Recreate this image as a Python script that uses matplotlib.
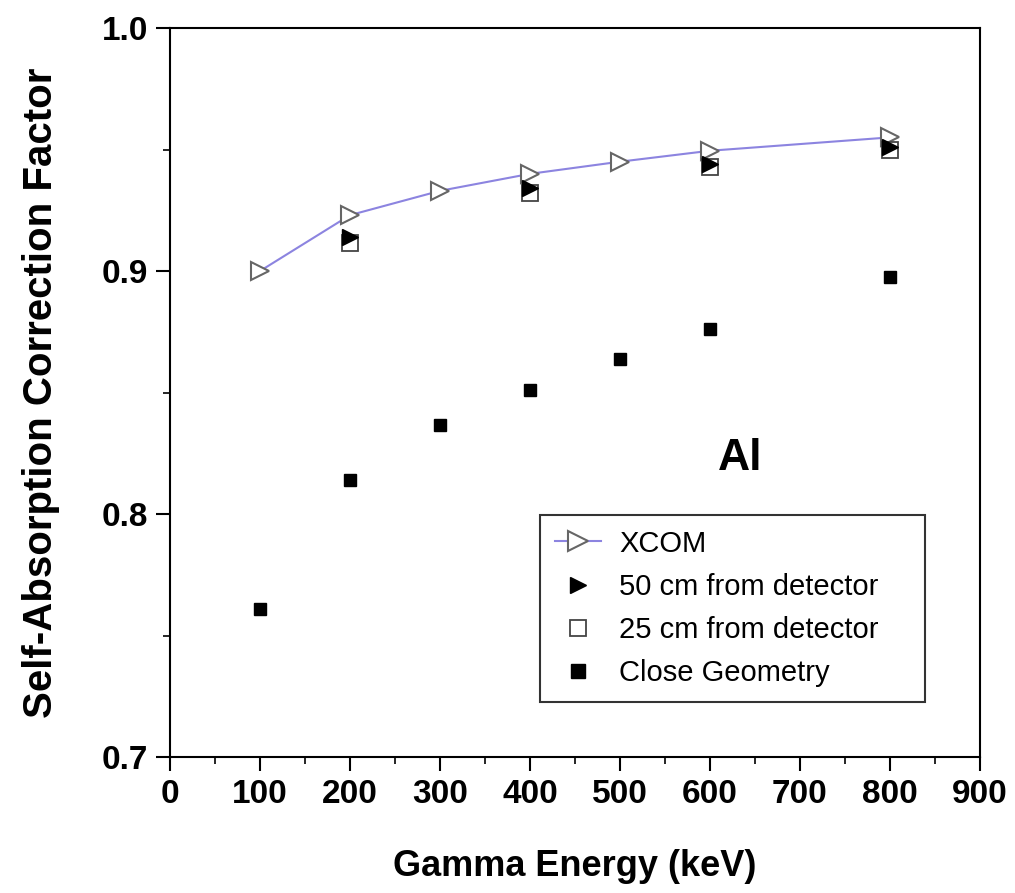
import matplotlib.pyplot as plt
from matplotlib.ticker import MultipleLocator

plt.rcParams["font.family"] = ["Liberation Sans", "DejaVu Sans"]

# Data
energy_xcom = [100, 200, 300, 400, 500, 600, 800]
xcom = [0.900, 0.923, 0.933, 0.940, 0.945, 0.9495, 0.955]

energy_meas = [200, 400, 600, 800]
cm50 = [0.914, 0.934, 0.944, 0.951]
cm25 = [0.9115, 0.932, 0.943, 0.950]

energy_close = [100, 200, 300, 400, 500, 600, 800]
close_geom = [0.761, 0.814, 0.8365, 0.851, 0.864, 0.876, 0.8975]

fig = plt.figure(figsize=(10.15, 8.93), dpi=100)
ax = fig.add_axes([0.1675, 0.1523, 0.798, 0.8163])

ax.plot(energy_xcom, xcom, color="#8c84e0", lw=1.5, marker=">", ms=13,
        mfc="white", mec="#666666", mew=1.5, label="XCOM", zorder=2)
ax.plot(energy_meas, cm25, ls="none", marker="s", ms=11, mfc="white",
        mec="#444444", mew=1.3, label="25 cm from detector", zorder=3)
ax.plot(energy_meas, cm50, ls="none", marker=">", ms=11, color="black",
        label="50 cm from detector", zorder=4)
ax.plot(energy_close, close_geom, ls="none", marker="s", ms=9,
        color="black", label="Close Geometry", zorder=3)

ax.set_xlim(0, 900)
ax.set_ylim(0.7, 1.0)
ax.xaxis.set_major_locator(MultipleLocator(100))
ax.xaxis.set_minor_locator(MultipleLocator(50))
ax.yaxis.set_major_locator(MultipleLocator(0.1))
ax.yaxis.set_minor_locator(MultipleLocator(0.05))
ax.tick_params(which="major", direction="out", length=10, width=1.5,
               labelsize=24, pad=6)
ax.tick_params(which="minor", direction="out", length=5, width=1.2)
for lab in ax.get_xticklabels() + ax.get_yticklabels():
    lab.set_fontweight("bold")
for sp in ax.spines.values():
    sp.set_linewidth(1.5)

ax.set_xlabel("Gamma Energy (keV)", fontsize=26, fontweight="bold",
              labelpad=28)
ax.set_ylabel("Self-Absorption Correction Factor", fontsize=29,
              fontweight="bold", labelpad=30)

ax.text(633, 0.823, "Al", fontsize=32, fontweight="bold", ha="center",
        va="center")

handles, labels = ax.get_legend_handles_labels()
order = [0, 2, 1, 3]
leg = ax.legend([handles[i] for i in order], [labels[i] for i in order],
                loc="upper left", bbox_to_anchor=(0.457, 0.0, 0.475, 0.332),
                mode="expand", fontsize=21, frameon=True, fancybox=False,
                edgecolor="black", handlelength=1.6, handletextpad=0.6,
                borderpad=0.5, borderaxespad=0, labelspacing=0.52,
                markerscale=1.1)
leg.get_frame().set_linewidth(1.5)

fig.savefig("out.png", dpi=100)
